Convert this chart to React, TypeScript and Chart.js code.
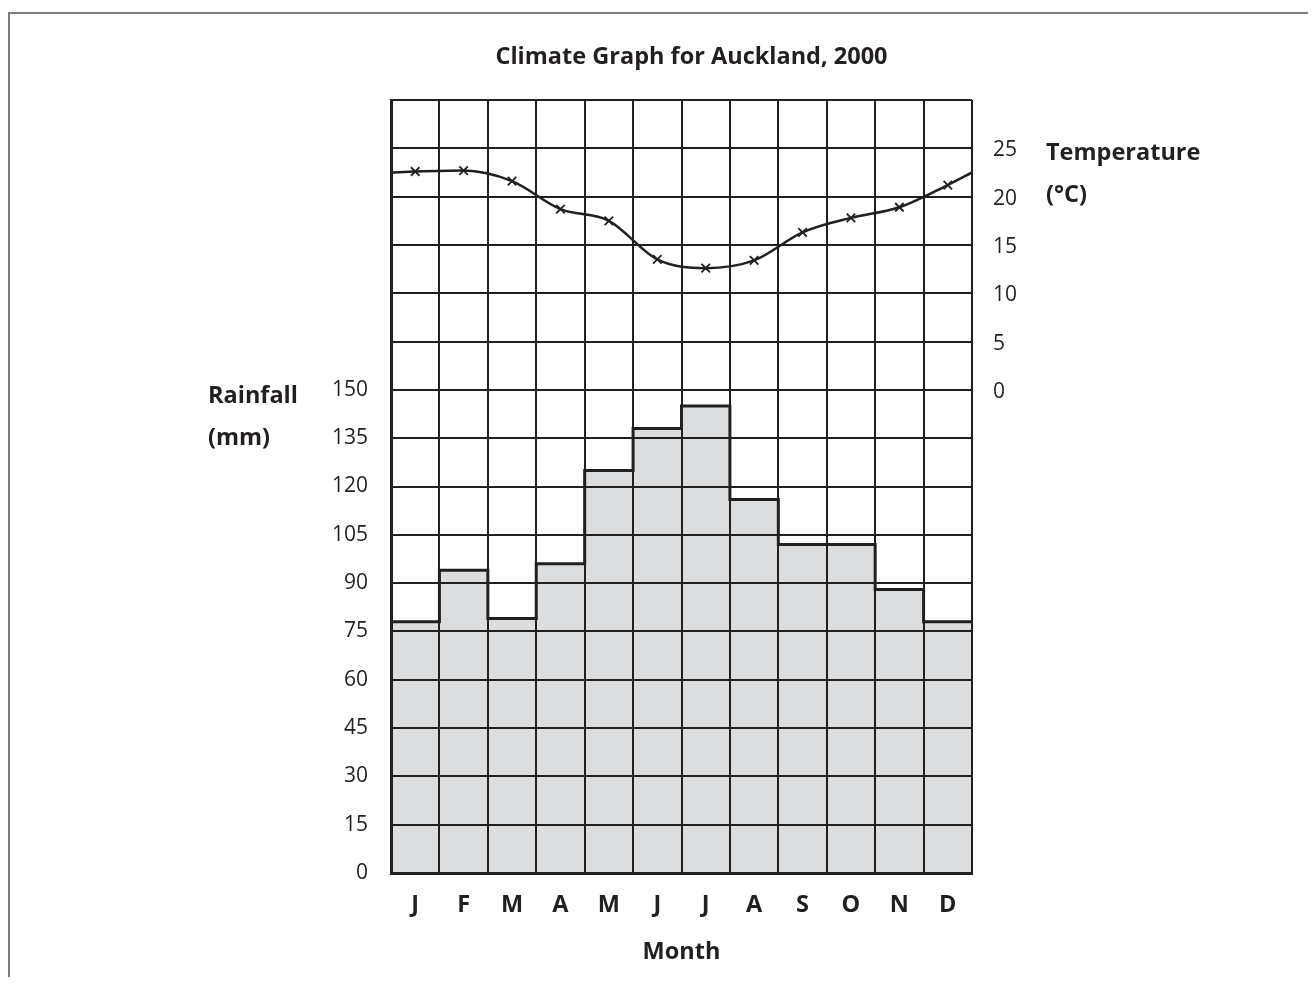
import React, { useEffect, useRef } from "react";
import { Chart, registerables } from "chart.js";

Chart.register(...registerables);

// ---- data ----
const months = ["J", "F", "M", "A", "M", "J", "J", "A", "S", "O", "N", "D"];
const rainfall = [78, 94, 79, 96, 125, 138, 145, 116, 102, 102, 88, 78];
const temperature = [22.6, 22.7, 21.6, 18.7, 17.5, 13.5, 12.6, 13.4, 16.3, 17.8, 18.9, 21.2];
const temperatureEdges = [22.5, 22.5]; // where the curve meets the left / right frame
const rainfallTickMax = 150;
const temperatureTickRange = [0, 25];
const titleText = "Climate Graph for Auckland, 2000";
const rainLabel = ["Rainfall", "(mm)"];
const tempLabel = ["Temperature", "(°C)"];
const xTitle = "Month";

const INK = "#231f20";
const FILL = "#dcdddf";
const FONT = "'Open Sans', sans-serif";
const BOLD = 23.5;
const TICK = 21;

const sideLabels = {
  id: "sideLabels",
  afterDraw(chart: any) {
    const { ctx, chartArea, scales } = chart;
    ctx.save();
    ctx.fillStyle = INK;
    ctx.font = `bold ${BOLD}px ${FONT}`;
    ctx.textBaseline = "middle";
    ctx.textAlign = "center";
    ctx.fillText(titleText, (chartArea.left + chartArea.right) / 2 + 10, chartArea.top - 43);
    ctx.textAlign = "left";
    const y150 = scales.y.getPixelForValue(rainfallTickMax);
    rainLabel.forEach((t, i) => ctx.fillText(t, chartArea.left - 183, y150 + 6 + i * 42));
    const t25 = scales.y2.getPixelForValue(temperatureTickRange[1]);
    tempLabel.forEach((t, i) => ctx.fillText(t, chartArea.right + 74, t25 + 5 + i * 42));
    ctx.restore();
  },
};

export default function App() {
  const ref = useRef<HTMLCanvasElement | null>(null);

  useEffect(() => {
    if (!ref.current) return;
    const outline = rainfall
      .map((v, i) => ({ x: i, y: v }))
      .concat([{ x: rainfall.length, y: rainfall[rainfall.length - 1] }]);
    const tempPts = [{ x: 0, y: temperatureEdges[0] }]
      .concat(temperature.map((v, i) => ({ x: i + 0.5, y: v })))
      .concat([{ x: months.length, y: temperatureEdges[1] }]);
    const radii = tempPts.map((_, i) => (i === 0 || i === tempPts.length - 1 ? 0 : 6));

    const chart = new Chart(ref.current, {
      type: "bar",
      data: {
        labels: months,
        datasets: [
          {
            type: "line",
            label: "Temperature",
            data: tempPts as any,
            xAxisID: "x2",
            yAxisID: "y2",
            borderColor: INK,
            borderWidth: 2.5,
            cubicInterpolationMode: "monotone",
            pointStyle: "crossRot",
            pointRadius: radii,
            pointBorderColor: INK,
            pointBorderWidth: 1.8,
            pointBackgroundColor: INK,
            fill: false,
            order: 0,
          } as any,
          {
            type: "line",
            label: "outline",
            data: outline as any,
            xAxisID: "x2",
            yAxisID: "y",
            stepped: true,
            borderColor: INK,
            borderWidth: 3,
            pointRadius: 0,
            fill: false,
            order: 1,
          } as any,
          {
            type: "bar",
            label: "Rainfall",
            data: rainfall,
            xAxisID: "x",
            yAxisID: "y",
            backgroundColor: FILL,
            borderWidth: 0,
            grouped: false,
            barPercentage: 1,
            categoryPercentage: 1,
            order: 2,
          } as any,
        ],
      },
      options: {
        responsive: false,
        animation: false,
        layout: { padding: { top: 92, left: 0, right: 0, bottom: 0 } },
        plugins: { legend: { display: false }, tooltip: { enabled: false }, title: { display: false } },
        scales: {
          x: {
            type: "category",
            position: "bottom",
            offset: true,
            grid: { color: INK, lineWidth: 2, drawTicks: false, offset: true, z: 1 },
            border: { color: INK, width: 3, z: 1 },
            ticks: { color: INK, font: { family: FONT, size: BOLD, weight: "bold" }, padding: 18 },
            title: {
              display: true,
              text: xTitle,
              color: INK,
              font: { family: FONT, size: BOLD, weight: "bold" },
              padding: { top: 0, bottom: 11 },
            },
            afterFit: (s: any) => {
              s.height = 104;
            },
          },
          x2: { type: "linear", min: 0, max: 12, offset: false, display: false },
          y: {
            position: "left",
            min: 0,
            max: 240,
            grid: { color: INK, lineWidth: 2, drawTicks: false, z: 1 },
            border: { color: INK, width: 3, z: 1 },
            ticks: {
              stepSize: 15,
              color: INK,
              font: { family: FONT, size: TICK },
              padding: 23,
              callback: (v: any) => (Number(v) <= rainfallTickMax ? String(v) : ""),
            },
            afterFit: (s: any) => {
              s.width = 383;
            },
          },
          y2: {
            position: "right",
            min: -50,
            max: 30,
            grid: { display: false, drawTicks: false },
            border: { display: false },
            ticks: {
              stepSize: 5,
              color: INK,
              font: { family: FONT, size: TICK },
              padding: 21,
              labelOffset: 2,
              callback: (v: any) =>
                Number(v) >= temperatureTickRange[0] && Number(v) <= temperatureTickRange[1] ? String(v) : "",
            },
            afterFit: (s: any) => {
              s.width = 336;
            },
          },
        },
      } as any,
      plugins: [sideLabels],
    });
    return () => chart.destroy();
  }, []);

  return (
    <div style={{ position: "relative", width: 1300, height: 969 }}>
      <canvas ref={ref} width={1300} height={969} style={{ display: "block", width: 1300, height: 969 }} />
      <div
        style={{
          position: "absolute",
          left: 0,
          top: 4,
          width: 1300,
          height: 965,
          boxSizing: "border-box",
          borderTop: "2px solid #7d7d7d",
          borderLeft: "2px solid #7d7d7d",
          pointerEvents: "none",
        }}
      />
    </div>
  );
}
